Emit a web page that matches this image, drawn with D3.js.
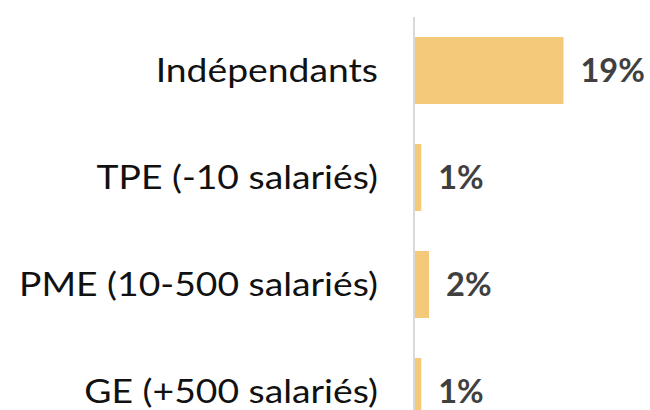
<!DOCTYPE html>
<html>
<head>
<meta charset="utf-8">
<script src="https://cdn.jsdelivr.net/npm/d3@7"></script>
<style>
  html, body { margin: 0; padding: 0; background: #fff; overflow: hidden; }
  #chart { width: 650px; height: 410px; }
  text { font-family: Lato, "Open Sans", sans-serif; }
</style>
</head>
<body>
<div id="chart"></div>
<script>
// categories and shares (%)
const categories = [
  "Indépendants",
  "TPE (-10 salariés)",
  "PME (10-500 salariés)",
  "GE (+500 salariés)"
];
const shares = [19, 0.8, 1.8, 0.8];

const data = categories.map((name, i) => ({ name, value: shares[i] }));

const width = 650;
const height = 410;
const margin = { left: 415, top: 17 };

const svg = d3
  .select("#chart")
  .append("svg")
  .attr("width", width)
  .attr("height", height);

const yScale = d3
  .scaleBand()
  .domain(categories)
  .range([margin.top, margin.top + 4 * 107])
  .paddingInner(0.374)
  .paddingOuter(0.187);

const xScale = d3.scaleLinear().domain([0, 19]).range([margin.left, 563.5]);

// bars
svg
  .selectAll(".bar")
  .data(data)
  .join("rect")
  .attr("class", "bar")
  .attr("x", xScale(0))
  .attr("y", (d) => yScale(d.name))
  .attr("width", (d) => xScale(d.value) - xScale(0))
  .attr("height", yScale.bandwidth())
  .attr("fill", "#f4ca7a");

// axis line
const yAxis = d3.axisLeft(yScale).tickSize(0).tickPadding(0);
const axisG = svg
  .append("g")
  .attr("class", "y-axis")
  .attr("transform", `translate(${margin.left - 1},0)`)
  .call(yAxis);

axisG.select(".domain").remove();
axisG
  .append("line")
  .attr("x1", 0)
  .attr("x2", 0)
  .attr("y1", margin.top)
  .attr("y2", height + 20)
  .attr("stroke", "#d9d9d9")
  .attr("stroke-width", 2);

axisG
  .selectAll(".tick text")
  .attr("x", 0)
  .attr("transform", "translate(-36,0) scale(1.165,1)")
  .attr("fill", "#111")
  .style("font-family", "Lato, sans-serif")
  .style("font-size", "32px")
  .attr("dy", "0.35em");

// value labels
svg
  .selectAll(".val")
  .data(data)
  .join("text")
  .attr("class", "val")
  .attr("x", (d) => xScale(d.value) + 17)
  .attr("y", (d) => yScale(d.name) + yScale.bandwidth() / 2)
  .attr("dy", "0.35em")
  .attr("fill", "#404040")
  .style("font-weight", "bold")
  .style("font-size", "32.5px")
  .text((d) => Math.round(d.value) + "%");
</script>
</body>
</html>
